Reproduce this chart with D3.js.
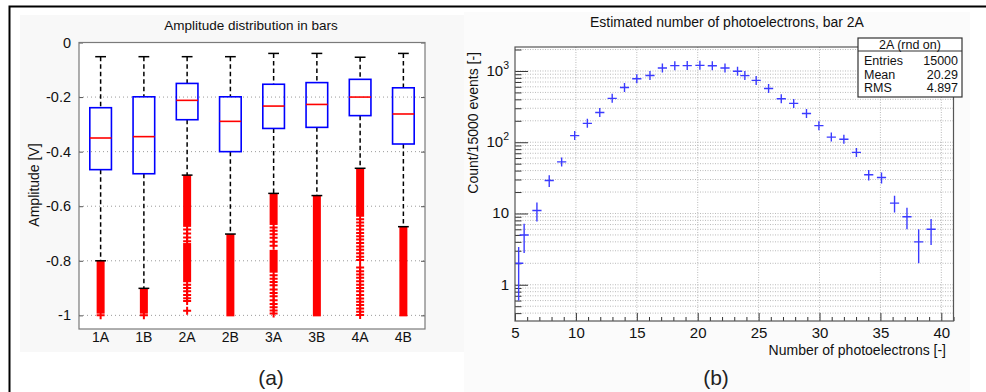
<!DOCTYPE html>
<html><head><meta charset="utf-8">
<script src="https://cdn.jsdelivr.net/npm/d3@7"></script>
<style>
body{margin:0;background:#fff;}
svg{display:block;font-family:"Liberation Sans",Arial,Helvetica,sans-serif;}
</style>
</head><body>
<svg id="c" width="986" height="392"></svg>
<script>
// ---------- Panel (a): amplitude box plots ----------
const bars = ["1A","1B","2A","2B","3A","3B","4A","4B"];
const whiskerHigh = [-0.052,-0.052,-0.052,-0.052,-0.040,-0.040,-0.054,-0.040];
const boxTop      = [-0.239,-0.199,-0.150,-0.199,-0.153,-0.147,-0.135,-0.166];
const boxBottom   = [-0.466,-0.481,-0.283,-0.400,-0.315,-0.311,-0.268,-0.372];
const medians     = [-0.350,-0.345,-0.212,-0.289,-0.233,-0.227,-0.200,-0.262];
const whiskerLow  = [-0.800,-0.901,-0.486,-0.702,-0.553,-0.561,-0.461,-0.675];
// dense outlier ranges (overlapping markers) per bar
const outlierBands = [
  [[-0.800,-0.990]],
  [[-0.901,-0.990]],
  [[-0.486,-0.672],[-0.735,-0.875]],
  [[-0.702,-1.000]],
  [[-0.553,-0.665],[-0.760,-0.840]],
  [[-0.561,-1.000]],
  [[-0.461,-0.635]],
  [[-0.675,-1.000]]
];
// separate outlier markers per bar
const outlierPoints = [
  [-1.0],
  [-1.0],
  [-0.685,-0.700,-0.715,-0.728,-0.888,-0.900,-0.912,-0.925,-0.937,-0.947,-0.983],
  [],
  [-0.678,-0.690,-0.703,-0.716,-0.730,-0.745,-0.853,-0.866,-0.878,-0.890,-0.905,-0.918,-0.930,-0.945,-0.958,-0.970,-0.982,-0.993],
  [],
  [-0.648,-0.660,-0.672,-0.685,-0.698,-0.710,-0.722,-0.735,-0.748,-0.760,-0.772,-0.785,-0.797,
   -0.825,-0.838,-0.850,-0.862,-0.875,-0.888,-0.900,-0.912,-0.925,-0.938,-0.950,-0.962,-0.975,-0.987,-0.999],
  []
];
const ampTicks = [0,-0.2,-0.4,-0.6,-0.8,-1];

// ---------- Panel (b): photoelectron histogram ----------
const peX      = [5.3,5.75,6.8,7.81,8.83,9.9,10.94,11.96,12.98,13.99,15.0,16.08,17.1,18.12,19.14,20.18,21.2,22.24,23.27,23.87,24.8,25.82,26.86,27.88,28.93,29.95,30.97,32.0,33.03,34.04,35.09,36.16,37.18,38.14,39.16];
const peCounts = [2,5,11,29,53,124,184,261,413,585,777,866,1102,1188,1190,1200,1185,1100,990,861,738,569,407,351,253,171,118,110,72,35,32,14,9,4,6];
const peErrors = [1.4,2.2,3.3,5.4,7.3,11,14,16,20,24,28,29,33,34,34,35,34,33,31,29,27,24,20,19,16,13,11,10,8.5,5.9,5.7,3.7,3,2,2.4];
const peXTicks = [5,10,15,20,25,30,35,40];
const peYTicks = [1,10,100,1000];
const peYLabels = [["1",""],["10",""],["10","2"],["10","3"]];
const statsTitle = "2A (rnd on)";
const statsRows = [["Entries","15000"],["Mean","20.29"],["RMS","4.897"]];

const svg = d3.select("#c");

// backgrounds
svg.append("rect").attr("x",20).attr("y",15).attr("width",444).attr("height",337).attr("fill","#f8f8f8");
svg.append("rect").attr("x",464).attr("y",12).attr("width",506).attr("height",380).attr("fill","#fbfbfb");
// outer border
svg.append("path").attr("d","M9.5,392V6.5H986").attr("fill","none").attr("stroke","#000").attr("stroke-width",2);

// ===== Panel (a) =====
const A = {l:79,r:425,t:42.5,b:329};
const xA = d3.scaleBand().domain(bars).range([A.l,A.r]).padding(0);
const yA = d3.scaleLinear().domain([-1.05,0]).range([A.b,A.t]);
const bw = xA.bandwidth();
const cx = d => xA(d)+bw/2;

const gA = svg.append("g");
gA.append("rect").attr("x",A.l).attr("y",A.t).attr("width",A.r-A.l).attr("height",A.b-A.t).attr("fill","#fff");
// grid
gA.selectAll(".gridA").data(ampTicks).join("line")
  .attr("x1",A.l).attr("x2",A.r).attr("y1",d=>yA(d)).attr("y2",d=>yA(d))
  .attr("stroke","#9a9a9a").attr("stroke-width",1).attr("stroke-dasharray","1,3");
// axes
const axL = gA.append("g").attr("transform",`translate(${A.l},0)`)
  .call(d3.axisLeft(yA).tickValues(ampTicks).tickSize(-4).tickPadding(8).tickFormat(d=>String(d)));
const axR = gA.append("g").attr("transform",`translate(${A.r},0)`)
  .call(d3.axisRight(yA).tickValues(ampTicks).tickSize(-4).tickFormat(""));
[axL,axR].forEach(g=>{g.select(".domain").remove();g.selectAll("line").attr("stroke","#555");});
axL.selectAll("text").attr("font-size",14.5).attr("fill","#111").attr("font-family","Liberation Sans, Arial, sans-serif");
gA.append("g").selectAll("text").data(bars).join("text")
  .attr("x",d=>cx(d)).attr("y",342).attr("text-anchor","middle")
  .attr("font-size",14).attr("fill","#111").text(d=>d);

// whiskers
const boxes = bars.map((b,i)=>({b,i}));
const gB = gA.append("g");
gB.selectAll(".wu").data(boxes).join("line")
  .attr("x1",d=>cx(d.b)).attr("x2",d=>cx(d.b))
  .attr("y1",d=>yA(whiskerHigh[d.i])).attr("y2",d=>yA(boxTop[d.i]))
  .attr("stroke","#000").attr("stroke-width",1.5).attr("stroke-dasharray","4.5,3");
gB.selectAll(".wl").data(boxes).join("line")
  .attr("x1",d=>cx(d.b)).attr("x2",d=>cx(d.b))
  .attr("y1",d=>yA(boxBottom[d.i])).attr("y2",d=>yA(whiskerLow[d.i]))
  .attr("stroke","#000").attr("stroke-width",1.5).attr("stroke-dasharray","4.5,3");
// outlier bands
const band = 8;
boxes.forEach(d=>{
  outlierBands[d.i].forEach(r=>{
    gB.append("rect").attr("x",cx(d.b)-band/2).attr("width",band)
      .attr("y",yA(r[0])).attr("height",yA(r[1])-yA(r[0])+1)
      .attr("fill","#ff0000");
  });
  gB.selectAll(null).data(outlierPoints[d.i]).join("path")
    .attr("d",v=>`M${cx(d.b)-4},${yA(v)}H${cx(d.b)+4}M${cx(d.b)},${yA(v)-4}V${yA(v)+4}`)
    .attr("stroke","#ff0000").attr("stroke-width",2).attr("fill","none");
});
// caps
const cap = bw*0.25;
gB.selectAll(".cu").data(boxes).join("line")
  .attr("x1",d=>cx(d.b)-cap/2).attr("x2",d=>cx(d.b)+cap/2)
  .attr("y1",d=>yA(whiskerHigh[d.i])).attr("y2",d=>yA(whiskerHigh[d.i]))
  .attr("stroke","#000").attr("stroke-width",1.5);
gB.selectAll(".cl").data(boxes).join("line")
  .attr("x1",d=>cx(d.b)-cap/2).attr("x2",d=>cx(d.b)+cap/2)
  .attr("y1",d=>yA(whiskerLow[d.i])).attr("y2",d=>yA(whiskerLow[d.i]))
  .attr("stroke","#000").attr("stroke-width",1.5);
// boxes
gB.selectAll(".bx").data(boxes).join("rect")
  .attr("x",d=>cx(d.b)-bw/4).attr("width",bw/2)
  .attr("y",d=>yA(boxTop[d.i])).attr("height",d=>yA(boxBottom[d.i])-yA(boxTop[d.i]))
  .attr("fill","none").attr("stroke","#0000ff").attr("stroke-width",1.6);
gB.selectAll(".md").data(boxes).join("line")
  .attr("x1",d=>cx(d.b)-bw/4).attr("x2",d=>cx(d.b)+bw/4)
  .attr("y1",d=>yA(medians[d.i])).attr("y2",d=>yA(medians[d.i]))
  .attr("stroke","#ff0000").attr("stroke-width",1.6);
// frame
gA.append("rect").attr("x",A.l).attr("y",A.t).attr("width",A.r-A.l).attr("height",A.b-A.t)
  .attr("fill","none").attr("stroke","#7a7a7a").attr("stroke-width",1.2);
gA.append("text").attr("x",251).attr("y",30).attr("text-anchor","middle").attr("font-size",13.5).attr("fill","#111")
  .text("Amplitude distribution in bars");
gA.append("text").attr("transform","translate(39,185) rotate(-90)").attr("text-anchor","middle")
  .attr("font-size",14).attr("fill","#111").text("Amplitude [V]");
svg.append("text").attr("x",271).attr("y",385).attr("text-anchor","middle").attr("font-size",21).attr("fill","#222").text("(a)");

// ===== Panel (b) =====
const B = {l:515,r:953.5,t:47,b:321};
const xB = d3.scaleLinear().domain([5,41]).range([B.l,B.r]);
const yB = d3.scaleLog().domain([0.31,2170]).range([B.b,B.t]);
const gP = svg.append("g");
gP.append("rect").attr("x",B.l).attr("y",B.t).attr("width",B.r-B.l).attr("height",B.b-B.t).attr("fill","#fff");
const yAll = yB.ticks();
const yMinor = yAll.filter(v=>!peYTicks.includes(v));
const xMinor = xB.ticks(36).filter(v=>!peXTicks.includes(v));
// grid
gP.selectAll(".gy").data(yAll).join("line")
  .attr("x1",B.l).attr("x2",B.r).attr("y1",d=>yB(d)).attr("y2",d=>yB(d))
  .attr("stroke","#a8a8a8").attr("stroke-width",0.8).attr("stroke-dasharray","1,1.5");
gP.selectAll(".gx").data(peXTicks.slice(1)).join("line")
  .attr("x1",d=>xB(d)).attr("x2",d=>xB(d)).attr("y1",B.t).attr("y2",B.b)
  .attr("stroke","#a8a8a8").attr("stroke-width",0.8).attr("stroke-dasharray","1,1.5");
// axes
const axB = gP.append("g").attr("transform",`translate(0,${B.b})`)
  .call(d3.axisBottom(xB).tickValues(peXTicks).tickSize(-8).tickPadding(8).tickFormat(d3.format("d")));
const axBm = gP.append("g").attr("transform",`translate(0,${B.b})`)
  .call(d3.axisBottom(xB).tickValues(xMinor).tickSize(-4).tickFormat(""));
const axY = gP.append("g").attr("transform",`translate(${B.l},0)`)
  .call(d3.axisLeft(yB).tickValues(peYTicks).tickSize(-13).tickPadding(8).tickFormat(""));
const axYm = gP.append("g").attr("transform",`translate(${B.l},0)`)
  .call(d3.axisLeft(yB).tickValues(yMinor).tickSize(-6.5).tickFormat(""));
[axB,axBm,axY,axYm].forEach(g=>{g.select(".domain").remove();g.selectAll("line").attr("stroke","#333").attr("stroke-width",1);});
axB.selectAll("text").attr("font-size",15).attr("fill","#111").attr("font-family","Liberation Sans, Arial, sans-serif").attr("dy","0.6em");
// y labels with superscripts
const yl = gP.append("g").selectAll("text").data(peYTicks).join("text")
  .attr("x",509).attr("y",d=>yB(d)+5).attr("text-anchor","end").attr("font-size",15).attr("fill","#111");
yl.each(function(d,i){
  const t = d3.select(this);
  t.append("tspan").text(peYLabels[i][0]);
  if(peYLabels[i][1]) t.append("tspan").attr("dy",-7).attr("font-size",10.5).text(peYLabels[i][1]);
});
// data points
const clip = svg.append("clipPath").attr("id","clipB");
clip.append("rect").attr("x",B.l).attr("y",B.t).attr("width",B.r-B.l).attr("height",B.b-B.t);
const pts = peX.map((x,i)=>({x,v:peCounts[i],e:peErrors[i]}));
const gD = gP.append("g").attr("clip-path","url(#clipB)");
gD.selectAll(".pt").data(pts).join("path")
  .attr("d",d=>{
    const px = xB(d.x), py = yB(d.v);
    const top = Math.min(yB(d.v+d.e), py-4.5), bot = Math.max(yB(Math.max(d.v-d.e,0.01)), py+4.5);
    return `M${px-4.6},${py}H${px+4.6}M${px},${top}V${bot}`;
  })
  .attr("stroke","#3b3bff").attr("stroke-width",1.4).attr("fill","none");
// frame
gP.append("rect").attr("x",B.l).attr("y",B.t).attr("width",B.r-B.l).attr("height",B.b-B.t)
  .attr("fill","none").attr("stroke","#555").attr("stroke-width",1.2);
// titles
gP.append("text").attr("x",727).attr("y",27).attr("text-anchor","middle").attr("font-size",14).attr("fill","#111")
  .text("Estimated number of photoelectrons, bar 2A");
gP.append("text").attr("x",946).attr("y",355).attr("text-anchor","end").attr("font-size",14).attr("fill","#111")
  .text("Number of photoelectrons [-]");
gP.append("text").attr("transform","translate(478,52) rotate(-90)").attr("text-anchor","end")
  .attr("font-size",14).attr("fill","#111").text("Count/15000 events [-]");
// stats box
const S = {l:858,r:962,t:38,b:97,h:51};
gP.append("rect").attr("x",S.l).attr("y",S.t).attr("width",S.r-S.l).attr("height",S.b-S.t)
  .attr("fill","#fff").attr("stroke","#333").attr("stroke-width",1.2);
gP.append("line").attr("x1",S.l).attr("x2",S.r).attr("y1",S.h).attr("y2",S.h).attr("stroke","#333").attr("stroke-width",1.2);
gP.append("text").attr("x",(S.l+S.r)/2).attr("y",49).attr("text-anchor","middle").attr("font-size",12.5).attr("fill","#111").text(statsTitle);
const rowY = d3.scaleLinear().domain([0,2]).range([65,92]);
statsRows.forEach((r,i)=>{
  gP.append("text").attr("x",S.l+6).attr("y",rowY(i)).attr("font-size",12.5).attr("fill","#111").text(r[0]);
  gP.append("text").attr("x",S.r-4).attr("y",rowY(i)).attr("text-anchor","end").attr("font-size",12.5).attr("fill","#111").text(r[1]);
});
svg.append("text").attr("x",716).attr("y",385).attr("text-anchor","middle").attr("font-size",21).attr("fill","#222").text("(b)");
</script>
</body></html>
